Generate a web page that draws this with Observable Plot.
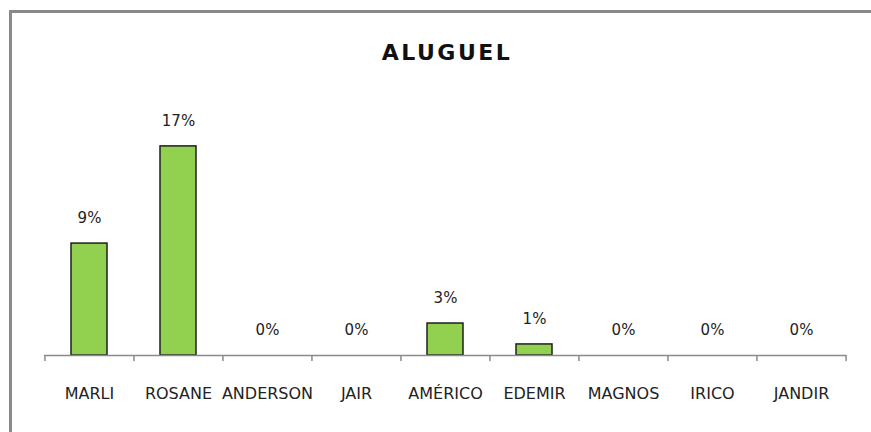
<!DOCTYPE html>
<html>
<head>
<meta charset="utf-8">
<script src="https://cdn.jsdelivr.net/npm/d3@7"></script>
<script src="https://cdn.jsdelivr.net/npm/@observablehq/plot@0.6"></script>
<style>
  html, body { margin: 0; padding: 0; background: #fff; }
  #wrap { position: relative; width: 871px; height: 432px; overflow: hidden; background: #fff; }
  #frame { position: absolute; left: 9px; top: 10px; width: 900px; height: 500px;
           border-left: 3px solid #8a8a8a; border-top: 3px solid #8a8a8a; box-sizing: border-box; }
  #title { position: absolute; left: 2px; width: 890px; top: 40px; text-align: center;
           font-family: "DejaVu Sans", sans-serif; font-weight: bold; font-size: 22px;
           letter-spacing: 2.5px; color: #111; line-height: 26px; }
  #chart { position: absolute; left: 0; top: 0; }
  #chart svg { background: transparent !important; }
</style>
</head>
<body>
<div id="wrap">
  <div id="frame"></div>
  <div id="title">ALUGUEL</div>
  <div id="chart"></div>
</div>
<script>
const categories = ["MARLI", "ROSANE", "ANDERSON", "JAIR", "AMÉRICO", "EDEMIR", "MAGNOS", "IRICO", "JANDIR"];
const values = [0.091, 0.170, 0, 0, 0.026, 0.009, 0, 0, 0];

const data = categories.map((c, i) => ({name: c, value: values[i]}));
const fmt = d3.format(".0%");
const step = (846 - 44) / categories.length;

const chart = Plot.plot({
  width: 871,
  height: 432,
  marginLeft: 44,
  marginRight: 25,
  marginTop: 109,
  marginBottom: 77,
  style: {background: "transparent", fontFamily: "DejaVu Sans, sans-serif", color: "#222"},
  x: {domain: categories, paddingInner: 0.6, paddingOuter: 0.3, label: null},
  y: {domain: [0, 0.20], axis: null},
  marks: [
    Plot.barY(data, {x: "name", y: "value", fill: "#92d050", stroke: "#1f1f1f", strokeWidth: 1.5}),
    Plot.ruleY([0], {stroke: "#8a8a8a", strokeWidth: 1.5}),
    Plot.ruleX(categories, {x: d => d, y1: 0, y2: 0, insetBottom: -6, dx: -step / 2, stroke: "#8a8a8a", strokeWidth: 1.5}),
    Plot.ruleX([categories[categories.length - 1]], {x: d => d, y1: 0, y2: 0, insetBottom: -6, dx: step / 2, stroke: "#8a8a8a", strokeWidth: 1.5}),
    Plot.text(data, {x: "name", y: "value", text: d => fmt(d.value), dy: -25, fontSize: 15, fill: "#222"}),
    Plot.axisX({tickSize: 0, tickPadding: 32, fontSize: 16, letterSpacing: 0.2, fill: "#222", label: null})
  ]
});
document.getElementById("chart").appendChild(chart);
</script>
</body>
</html>
